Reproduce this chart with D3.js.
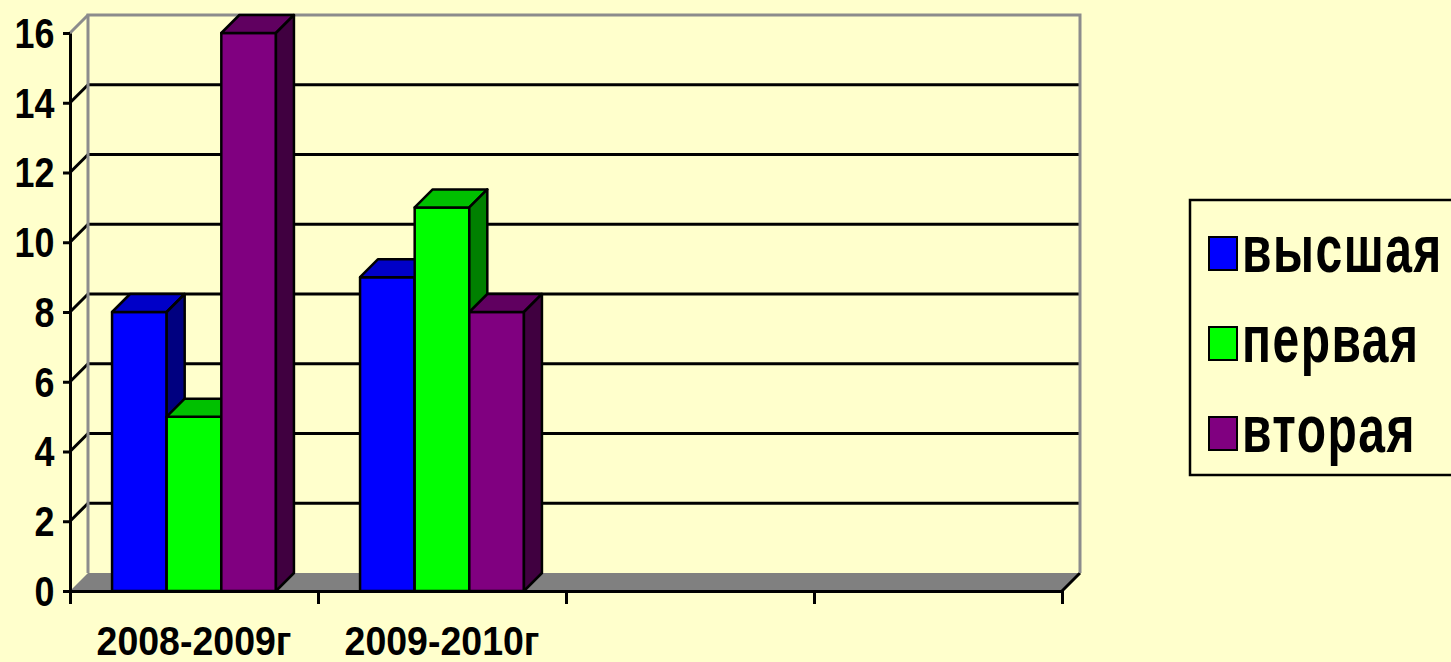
<!DOCTYPE html>
<html>
<head>
<meta charset="utf-8">
<script src="https://cdn.jsdelivr.net/npm/d3@7/dist/d3.min.js"></script>
<style>
  body { margin: 0; background: #ffffcc; }
  svg { display: block; font-family: 'Liberation Sans', Arial, sans-serif; font-weight: bold; }
</style>
</head>
<body>
<svg width="1451" height="662"></svg>
<script>
// data
const categories = ['2008-2009г', '2009-2010г', '', '']
const seriesNames = ['высшая', 'первая', 'вторая']
const vysshaya = [8, 9]
const pervaya = [5, 11]
const vtoraya = [16, 8]
const yTicks = [0, 2, 4, 6, 8, 10, 12, 14, 16]

const values = { 'высшая': vysshaya, 'первая': pervaya, 'вторая': vtoraya }
const colours = {
  'высшая': { front: '#0000ff', top: '#0000c8', side: '#000080' },
  'первая': { front: '#00ff00', top: '#00c000', side: '#008000' },
  'вторая': { front: '#800080', top: '#600060', side: '#400040' }
}

const margin = { top: 33, right: 389, bottom: 71, left: 70 }
const width = 1451
const height = 662
const depth = 18 // 3d offset of back wall and bars

const svg = d3.select('svg')

const x0 = d3.scaleBand()
  .domain(d3.range(categories.length))
  .range([margin.left, width - margin.right])

const x1 = d3.scaleBand()
  .domain(seriesNames)
  .range([0, x0.bandwidth()])
  .paddingInner(0)
  .paddingOuter(0.77)

const y = d3.scaleLinear()
  .domain([0, 16])
  .range([height - margin.bottom, margin.top])

const xTick = d3.scaleLinear()
  .domain([0, categories.length])
  .range([margin.left, width - margin.right])

const left = margin.left
const right = width - margin.right
const base = y(0)

// floor
svg.append('polygon')
  .attr('points', [[left, base], [right, base], [right + depth, base - depth], [left + depth, base - depth]].join(' '))
  .attr('fill', '#808080')
svg.append('line')
  .attr('x1', right).attr('y1', base)
  .attr('x2', right + depth).attr('y2', base - depth)
  .attr('stroke', '#000').attr('stroke-width', 3)

// back wall grid lines
svg.append('g')
  .selectAll('line')
  .data(yTicks.filter(t => t > 0 && t < 16))
  .enter().append('line')
  .attr('x1', left + depth)
  .attr('x2', right + depth)
  .attr('y1', d => y(d) - depth)
  .attr('y2', d => y(d) - depth)
  .attr('stroke', '#000')
  .attr('stroke-width', 3)

// side wall diagonals
svg.append('g')
  .selectAll('line')
  .data(yTicks.filter(t => t > 0))
  .enter().append('line')
  .attr('x1', left)
  .attr('x2', left + depth)
  .attr('y1', d => y(d))
  .attr('y2', d => y(d) - depth)
  .attr('stroke', d => d === 16 ? '#8c8c8c' : '#000')
  .attr('stroke-width', 3)

// wall frame
svg.append('path')
  .attr('d', `M${left + depth},${base - depth}V${y(16) - depth}H${right + depth}V${base - depth}`)
  .attr('fill', 'none')
  .attr('stroke', '#8c8c8c')
  .attr('stroke-width', 3)

// bars
const bars = []
categories.forEach((c, i) => {
  seriesNames.forEach(s => {
    const v = values[s][i]
    if (v !== undefined) bars.push({ i, s, v })
  })
})

const barG = svg.append('g')
  .attr('stroke', '#000')
  .attr('stroke-width', 2.5)
  .attr('stroke-linejoin', 'round')

bars.forEach(b => {
  const bx = x0(b.i) + x1(b.s)
  const w = x1.bandwidth()
  const top = y(b.v)
  const g = barG.append('g')
  g.append('rect')
    .attr('x', bx).attr('y', top)
    .attr('width', w).attr('height', base - top)
    .attr('fill', colours[b.s].front)
  g.append('polygon')
    .attr('points', [[bx, top], [bx + depth, top - depth], [bx + w + depth, top - depth], [bx + w, top]].join(' '))
    .attr('fill', colours[b.s].top)
  g.append('polygon')
    .attr('points', [[bx + w, top], [bx + w + depth, top - depth], [bx + w + depth, base - depth], [bx + w, base]].join(' '))
    .attr('fill', colours[b.s].side)
})

// y axis
const yAxis = svg.append('g')
  .attr('transform', 'translate(' + left + ',0)')
  .call(d3.axisLeft(y).tickValues(yTicks).tickSize(7).tickSizeOuter(0).tickPadding(9))
yAxis.select('.domain').attr('stroke', '#000').attr('stroke-width', 3)
yAxis.selectAll('.tick line').attr('stroke', '#000').attr('stroke-width', 3)
yAxis.selectAll('.tick text')
  .attr('fill', '#000')
  .attr('font-size', 37)
  .attr('font-family', "'Liberation Sans', Arial, sans-serif")
  .attr('font-weight', 'bold')
  .attr('dy', '0.34em')
  .attr('transform', 'scale(0.97,1.14)')

// x axis
const xAxis = svg.append('g')
  .attr('transform', 'translate(0,' + base + ')')
  .call(d3.axisBottom(xTick).tickValues(d3.range(categories.length + 1)).tickFormat('').tickSize(13).tickSizeOuter(0))
xAxis.select('.domain').attr('stroke', '#000').attr('stroke-width', 3)
xAxis.selectAll('.tick line').attr('stroke', '#000').attr('stroke-width', 3)

svg.append('g')
  .selectAll('text')
  .data(categories)
  .enter().append('text')
  .text(d => d)
  .attr('text-anchor', 'middle')
  .attr('font-size', 37.5)
  .attr('transform', (d, i) => 'translate(' + (x0(i) + x0.bandwidth() / 2) + ',655) scale(1,1.1)')

// legend
const legend = svg.append('g')
legend.append('rect')
  .attr('x', 1190).attr('y', 200)
  .attr('width', 300).attr('height', 275)
  .attr('fill', 'none')
  .attr('stroke', '#000')
  .attr('stroke-width', 2.5)

const item = legend.selectAll('g')
  .data(seriesNames)
  .enter().append('g')
  .attr('transform', (d, i) => 'translate(1209,' + (272 + i * 90) + ')')
item.append('rect')
  .attr('x', 0).attr('y', -35)
  .attr('width', 28).attr('height', 33)
  .attr('fill', d => colours[d].front)
  .attr('stroke', '#000')
  .attr('stroke-width', 2)
item.append('text')
  .text(d => d)
  .attr('font-size', 48)
  .attr('letter-spacing', 1.5)
  .attr('transform', 'translate(33,0) scale(1,1.4)')
</script>
</body>
</html>
